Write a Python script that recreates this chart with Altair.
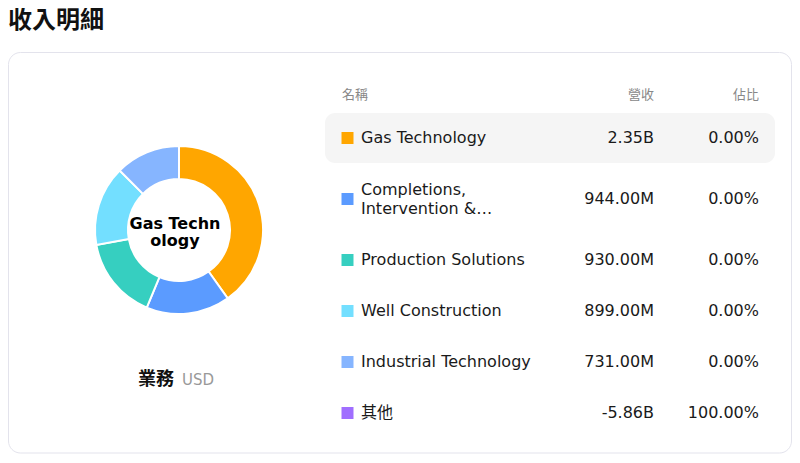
import altair as alt
import pandas as pd

# ---- data ----
names = ["Gas Technology", "Completions, Intervention & Measurements",
         "Production Solutions", "Well Construction", "Industrial Technology", "其他"]
revenues = [2.35e9, 944e6, 930e6, 899e6, 731e6, -5.86e9]
shares = [0.0, 0.0, 0.0, 0.0, 0.0, 100.0]
colors = ["#FFA600", "#5B9BFF", "#36CFC0", "#73DFFF", "#86B5FF", "#A06EFF"]
headers = ["名稱", "營收", "佔比"]
title_text = "收入明細"
group_label = "業務"
currency = "USD"

FONT = "DejaVu Sans, Noto Sans CJK TC"
CJK = "Noto Sans CJK TC, DejaVu Sans"
W, H = 784, 446
LH = 19


def fmt(v):
    a = abs(v)
    if a >= 1e9:
        return f"{v / 1e9:.2f}B"
    if a >= 1e6:
        return f"{v / 1e6:.2f}M"
    return f"{v:.2f}"


def wrap(s, width=22, max_lines=2):
    words = s.split(" ")
    lines, cur = [], ""
    for w in words:
        t = (cur + " " + w).strip()
        if len(t) <= width:
            cur = t
        else:
            lines.append(cur)
            cur = w
    lines.append(cur)
    if len(lines) > max_lines:
        lines = lines[:max_lines]
        lines[-1] = lines[-1] + "…"
    return lines


rows = []
prev_c, prev_h = None, None
for i, (n, v, p) in enumerate(zip(names, revenues, shares)):
    lines = wrap(n)
    h = 51 + 20 * (len(lines) - 1)
    yc = 130 if prev_c is None else prev_c + prev_h / 2 + h / 2
    prev_c, prev_h = yc, h
    rows.append({"idx": i, "name": n, "label": "\n".join(lines), "value": v,
                 "vtxt": fmt(v), "ptxt": f"{p:.2f}%", "yc": yc,
                 "ly": yc - (len(lines) - 1) * LH / 2})
table = pd.DataFrame(rows)
pie = table[table["value"] > 0].copy()

top_name = pie.sort_values("value", ascending=False)["name"].iloc[0]
center_lines = [top_name[i:i + 9] for i in range(0, len(top_name), 9)]
center_label = "\n".join(center_lines)
CLH = 17

one = pd.DataFrame({"k": [0]})
hdr = pd.DataFrame({"h": headers, "col": [0, 1, 2]})

yscale = alt.Scale(domain=[0, H], range=[0, H], nice=False, zero=False)
cscale = alt.Scale(domain=names, range=colors)

card = alt.Chart(one).mark_rect(fill="white", stroke="#E3E3EC", strokeWidth=1,
                                cornerRadius=12).encode(
    x=alt.value(0.5), x2=alt.value(783.5), y=alt.value(44.5), y2=alt.value(445))

title = alt.Chart(one).mark_text(text=title_text, font=CJK, fontSize=24, fontWeight="bold",
                                 align="left", baseline="middle", color="#111").encode(
    x=alt.value(0), y=alt.value(13))

arc = alt.Chart(pie).mark_arc(innerRadius=51, outerRadius=84, stroke="white",
                              strokeWidth=2).encode(
    theta=alt.Theta("value:Q", stack=True),
    color=alt.Color("name:N", scale=cscale, legend=None),
    order=alt.Order("idx:Q"),
    x=alt.value(171), y=alt.value(222))

center = alt.Chart(one).mark_text(text=center_label, lineBreak="\n", font=FONT, fontSize=16,
                                  fontWeight="bold", lineHeight=CLH, align="center",
                                  baseline="middle", color="#000").encode(
    x=alt.value(167), y=alt.value(224 - (len(center_lines) - 1) * CLH / 2))

grp = alt.Chart(one).mark_text(text=group_label, font=CJK, fontSize=18, fontWeight="bold",
                               align="right", baseline="middle", color="#111").encode(
    x=alt.value(166), y=alt.value(372))
cur = alt.Chart(one).mark_text(text=currency, font=FONT, fontSize=15, align="left",
                               baseline="middle", color="#999").encode(
    x=alt.value(174), y=alt.value(372))

hdr_name = alt.Chart(hdr).transform_filter("datum.col == 0").mark_text(
    font=CJK, fontSize=13, align="left", baseline="middle", color="#888").encode(
    text="h:N", x=alt.value(334), y=alt.value(87))
hdr_rev = alt.Chart(hdr).transform_filter("datum.col == 1").mark_text(
    font=CJK, fontSize=13, align="right", baseline="middle", color="#888").encode(
    text="h:N", x=alt.value(646), y=alt.value(87))
hdr_pct = alt.Chart(hdr).transform_filter("datum.col == 2").mark_text(
    font=CJK, fontSize=13, align="right", baseline="middle", color="#888").encode(
    text="h:N", x=alt.value(751), y=alt.value(87))

hl = alt.Chart(table).transform_filter("datum.idx == 0").transform_calculate(
    y0="datum.yc - 25", y1="datum.yc + 25").mark_rect(
    fill="#F5F5F5", cornerRadius=10).encode(
    x=alt.value(317), x2=alt.value(767),
    y=alt.Y("y0:Q", scale=yscale, axis=None), y2="y1:Q")

sq = alt.Chart(table).mark_square(size=144, opacity=1, filled=True).encode(
    x=alt.value(339.5), y=alt.Y("yc:Q", scale=yscale, axis=None),
    color=alt.Color("name:N", scale=cscale, legend=None))

lab = alt.Chart(table).mark_text(font=FONT, fontSize=16, lineBreak="\n", lineHeight=LH,
                                 align="left", baseline="middle", color="#1A1A1A").encode(
    text="label:N", x=alt.value(353), y=alt.Y("ly:Q", scale=yscale, axis=None))

val = alt.Chart(table).mark_text(font=FONT, fontSize=16, align="right", baseline="middle",
                                 color="#1A1A1A").encode(
    text="vtxt:N", x=alt.value(646), y=alt.Y("yc:Q", scale=yscale, axis=None))

pct = alt.Chart(table).mark_text(font=FONT, fontSize=16, align="right", baseline="middle",
                                 color="#1A1A1A").encode(
    text="ptxt:N", x=alt.value(751), y=alt.Y("yc:Q", scale=yscale, axis=None))

chart = alt.layer(card, title, arc, center, grp, cur, hdr_name, hdr_rev, hdr_pct,
                  hl, sq, lab, val, pct).properties(
    width=W, height=H, autosize=alt.AutoSizeParams(type="none"), padding=0,
    background="white").configure_view(stroke=None)

chart.save("out.html", embed_options={"renderer": "svg", "actions": False})
